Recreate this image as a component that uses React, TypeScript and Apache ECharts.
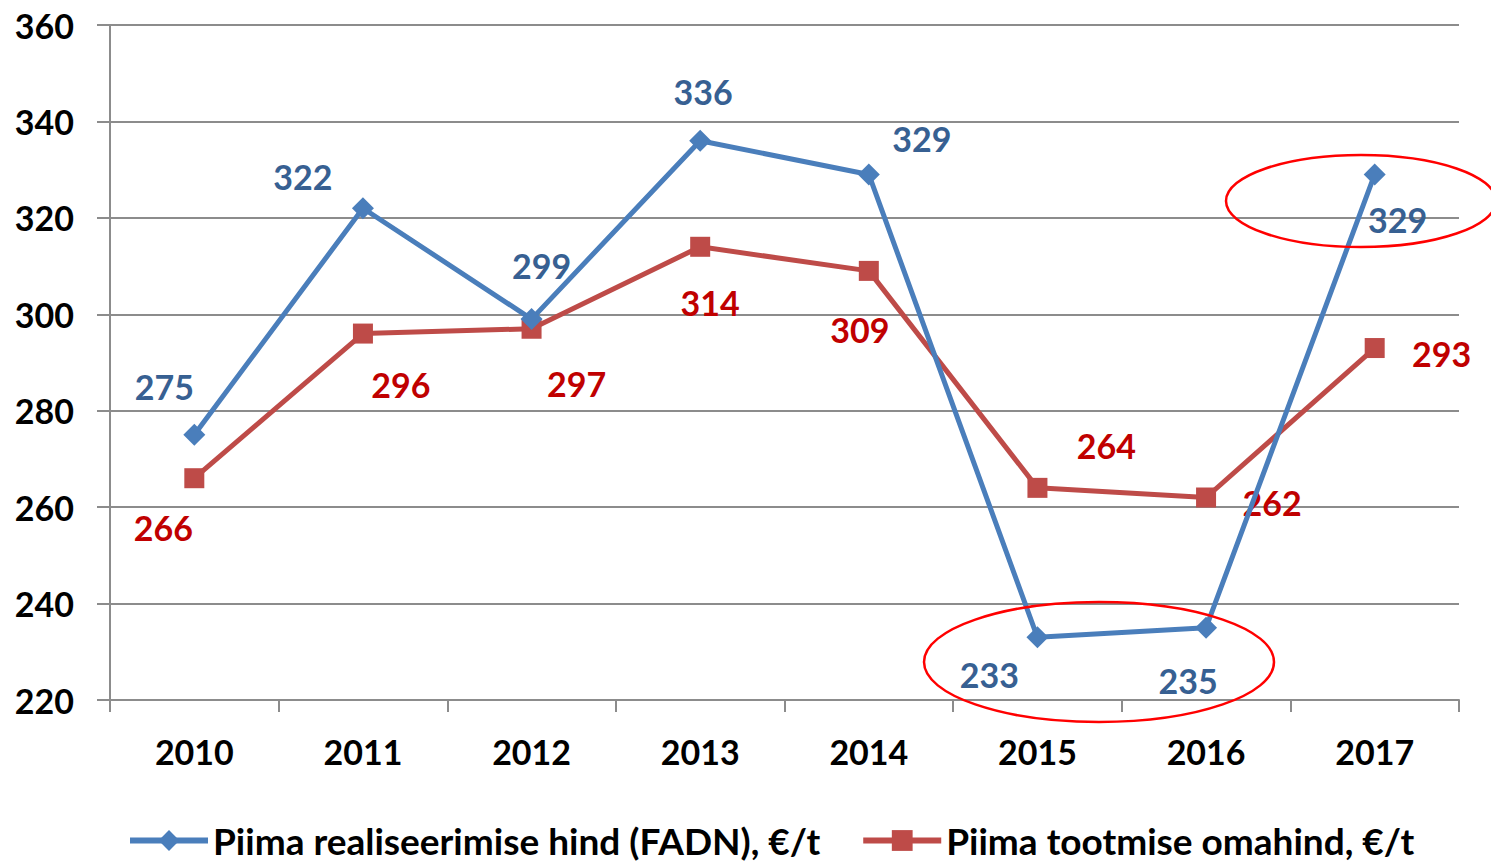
import React, { useEffect, useRef } from "react";
import * as echarts from "echarts";

const years = ["2010", "2011", "2012", "2013", "2014", "2015", "2016", "2017"];
const fadnPrice = [275, 322, 299, 336, 329, 233, 235, 329];
const productionCost = [266, 296, 297, 314, 309, 264, 262, 293];
const fadnLabelOffsets: number[][] = [
  [-30, -48], [-60, -32], [10, -54], [3, -49], [53, -36], [-48, 37], [-18, 53], [23, 45],
];
const costLabelOffsets: number[][] = [
  [-31, 49], [38, 51], [45, 55], [10, 56], [-9, 59], [69, -42], [66, 5], [67, 5],
];
const seriesNames = ["Piima realiseerimise hind (FADN), €/t", "Piima tootmise omahind, €/t"];

const FONT = "Lato";

export default function App() {
  const ref = useRef<HTMLDivElement>(null);
  useEffect(() => {
    document.body.style.margin = "0";
    const chart = echarts.init(ref.current!, null, { renderer: "svg" });
    const mk = (vals: number[], offs: number[][], color: string) =>
      vals.map((v, i) => ({
        value: v,
        label: {
          show: true,
          position: "inside",
          offset: offs[i],
          color,
          fontFamily: FONT,
          fontWeight: "bold",
          fontSize: 34,
          formatter: "{c}",
        },
      }));
    chart.setOption({
      animation: false,
      backgroundColor: "#ffffff",
      grid: { left: 110, right: 32, top: 25, bottom: 164, containLabel: false },
      legend: {
        bottom: 0,
        left: 122,
        itemWidth: 78,
        itemHeight: 26,
        itemGap: 40,
        lineStyle: { width: 6 },
        textStyle: { fontFamily: FONT, fontWeight: "bold", fontSize: 37, color: "#000" },
        data: seriesNames,
      },
      xAxis: {
        type: "category",
        data: years,
        boundaryGap: true,
        axisLine: { lineStyle: { color: "#8c8c8c", width: 2 } },
        axisTick: { show: true, interval: 0, length: 12, lineStyle: { color: "#8c8c8c", width: 2 } },
        axisLabel: { fontFamily: FONT, fontWeight: "bold", fontSize: 34, color: "#000", margin: 34 },
      },
      yAxis: {
        type: "value",
        min: 220,
        max: 360,
        interval: 20,
        axisLine: { show: true, lineStyle: { color: "#8c8c8c", width: 2 } },
        axisTick: { show: true, length: 13, lineStyle: { color: "#8c8c8c", width: 2 } },
        axisLabel: { fontFamily: FONT, fontWeight: "bold", fontSize: 34, color: "#000", margin: 36 },
        splitLine: { show: true, lineStyle: { color: "#8c8c8c", width: 2 } },
      },
      series: [
        {
          name: seriesNames[0],
          type: "line",
          data: mk(fadnPrice, fadnLabelOffsets, "#376092"),
          symbol: "diamond",
          symbolSize: 22,
          lineStyle: { color: "#4a7ebb", width: 5 },
          itemStyle: { color: "#4a7ebb" },
          z: 3,
        },
        {
          name: seriesNames[1],
          type: "line",
          data: mk(productionCost, costLabelOffsets, "#c00000"),
          symbol: "rect",
          symbolSize: 20,
          lineStyle: { color: "#be4b48", width: 5 },
          itemStyle: { color: "#be4b48" },
          z: 2,
        },
      ],
      graphic: [
        {
          type: "ellipse",
          shape: { cx: 1099, cy: 662, rx: 175, ry: 60 },
          style: { fill: "none", stroke: "#ff0000", lineWidth: 2.5 },
          z: 10,
        },
        {
          type: "ellipse",
          shape: { cx: 1361, cy: 201, rx: 135, ry: 46 },
          style: { fill: "none", stroke: "#ff0000", lineWidth: 2.5 },
          z: 10,
        },
      ],
    });
    return () => chart.dispose();
  }, []);
  return <div ref={ref} style={{ width: 1491, height: 864, position: "absolute", left: 0, top: 0 }} />;
}
